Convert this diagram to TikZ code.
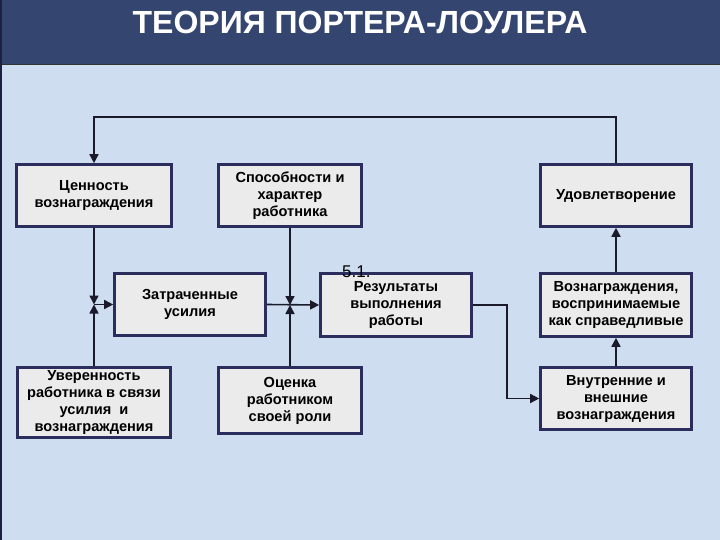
\documentclass[tikz,border=0pt]{standalone}
\usepackage{fontspec}
\setmainfont{Liberation Sans}
\usetikzlibrary{arrows.meta,calc}
\definecolor{bgc}{HTML}{CFDDF0}
\definecolor{titlec}{HTML}{344670}
\definecolor{boxc}{HTML}{2B2D5C}
\definecolor{boxfill}{HTML}{EBEBEB}
\definecolor{linec}{HTML}{1A1A2A}
\tikzset{
  boxn/.style={draw=boxc, line width=2.6pt, fill=boxfill, align=center, inner sep=0pt,
    font=\bfseries\fontsize{14.6}{17}\selectfont, text=black},
  arr/.style={draw=linec, line width=1.6pt, -{Triangle[length=9pt,width=9pt]}}
}
\begin{document}
\begin{tikzpicture}[x=1pt,y=-1pt]
\useasboundingbox (0,0) rectangle (720,540);
\fill[bgc] (0,0) rectangle (720,540);
\fill[titlec] (0,0) rectangle (720,64);
\draw[black!80, line width=1.5pt] (0,64.5) -- (720,64.5);
\draw[boxc!70!black, line width=2pt] (1,0) -- (1,540);
\node[anchor=base, text=white, font=\bfseries\fontsize{32}{36}\selectfont] (title) at (360,34) {ТЕОРИЯ ПОРТЕРА-ЛОУЛЕРА};

\node[boxn, minimum width=155pt, minimum height=62pt] (b1) at (94,195.5) {Ценность\\вознаграждения};
\node[boxn, minimum width=143pt, minimum height=62pt] (b2) at (290,195.5) {Способности и\\характер\\работника};
\node[boxn, minimum width=151pt, minimum height=62pt] (b3) at (190,304.5) {Затраченные\\усилия};
\node[boxn, minimum width=151pt, minimum height=63pt] (b4) at (396,305) {Результаты\\выполнения\\работы};
\node[boxn, minimum width=151pt, minimum height=62pt] (b5) at (616,195.5) {Удовлетворение};
\node[boxn, minimum width=151pt, minimum height=63pt] (b6) at (616,305) {Вознаграждения,\\воспринимаемые\\как справедливые};
\node[boxn, minimum width=151pt, minimum height=62pt] (b7) at (616,398.5) {Внутренние и\\внешние\\вознаграждения};
\node[boxn, minimum width=153pt, minimum height=70pt] (b8) at (94,402.5) {Уверенность\\работника в связи\\усилия\ \ и\\вознаграждения};
\node[boxn, minimum width=143pt, minimum height=66pt] (b9) at (290,400.5) {Оценка\\работником\\своей роли};

\node[anchor=base west, font=\fontsize{17}{19}\selectfont, inner sep=0pt] (lbl) at (342,277) {5.1.};

\coordinate (fb) at (0,117);
\coordinate (j1) at (b1.south |- b3.west);
\coordinate (j2) at (b2.south |- b4.west);
\coordinate (cr) at (507,0);

\draw[arr] (b5.north) -- (b5.north |- fb) -- (b1.north |- fb) -- (b1.north);
\draw[arr] (b1.south) -- (j1);
\draw[arr] (b8.north) -- (j1);
\draw[arr] (j1) -- (b3.west);
\draw[arr] (b2.south) -- (j2);
\draw[arr] (b9.north) -- (j2);
\draw[arr] (b3.east) -- (b4.west);
\draw[arr] (b4.east) -- (b4.east -| cr) -- (cr |- b7.west) -- (b7.west);
\draw[arr] (b7.north) -- (b6.south);
\draw[arr] (b6.north) -- (b5.south);
\end{tikzpicture}
\end{document}
